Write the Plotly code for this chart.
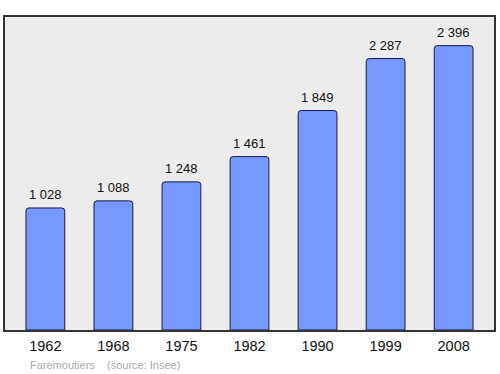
import plotly.graph_objects as go

years = ["1962", "1968", "1975", "1982", "1990", "1999", "2008"]
population = [1028, 1088, 1248, 1461, 1849, 2287, 2396]
labels = ["1 028", "1 088", "1 248", "1 461", "1 849", "2 287", "2 396"]

xs = list(range(len(years)))

fig = go.Figure()
fig.add_trace(go.Bar(
    x=xs, y=population, width=0.57,
    marker=dict(color="#7799ff", line=dict(color="#1a1a4a", width=1), cornerradius=3),
    hoverinfo="skip",
))
for x, v, t in zip(xs, population, labels):
    fig.add_annotation(x=x, y=v, text=t, showarrow=False, yanchor="bottom", yshift=4,
                       font=dict(size=13, color="#111", family="Liberation Sans, Arial"))

fig.add_annotation(xref="paper", yref="paper", x=0.047, y=-0.085, xanchor="left", yanchor="top",
                   text="Faremoutiers&nbsp;&nbsp;&nbsp;&nbsp;(source: Insee)", showarrow=False,
                   font=dict(size=11, color="#aaaaaa", family="Liberation Sans, Arial"))

fig.update_layout(
    width=500, height=374,
    margin=dict(l=5, r=4, t=17, b=44),
    paper_bgcolor="white", plot_bgcolor="#ececec",
    showlegend=False,
    font=dict(family="Liberation Sans, Arial", color="#111"),
    xaxis=dict(range=[-0.593, 6.593], tickvals=xs, ticktext=years, showgrid=False,
               zeroline=False, showline=True, mirror=True, linecolor="#333", linewidth=2,
               tickfont=dict(size=14.5, color="#111"), ticks="", ticklabelstandoff=2, fixedrange=True),
    yaxis=dict(range=[0, 2637], showgrid=False, zeroline=False, showticklabels=False,
               showline=True, mirror=True, linecolor="#333", linewidth=2, ticks="", fixedrange=True),
)
fig.write_html("out.html")
